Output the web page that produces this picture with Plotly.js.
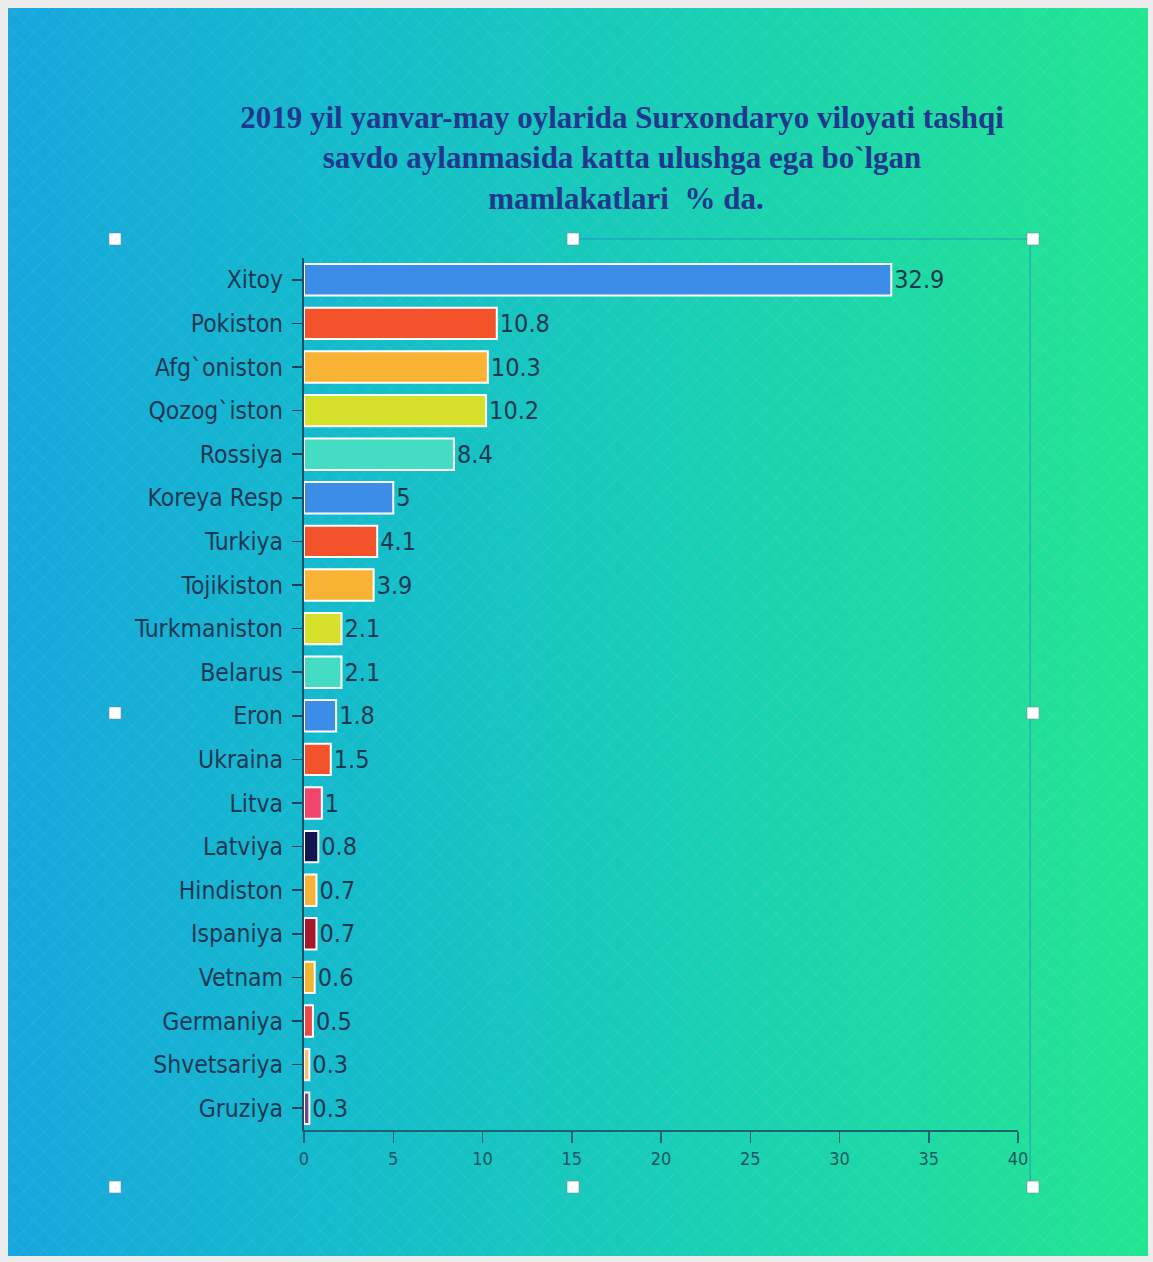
<!DOCTYPE html>
<html>
<head>
<meta charset="utf-8">
<script src="https://cdn.plot.ly/plotly-3.0.1.min.js"></script>
<style>
  html, body { margin: 0; padding: 0; background: #ececec; }
  #wrap { position: relative; width: 1153px; height: 1262px; overflow: hidden; }
  #bg {
    position: absolute; left: 8px; top: 8px; right: 5px; bottom: 6px;
    background:
      repeating-linear-gradient(45deg, rgba(255,255,255,0.03) 0 2px, rgba(255,255,255,0) 2px 14px),
      repeating-linear-gradient(-45deg, rgba(255,255,255,0.03) 0 2px, rgba(255,255,255,0) 2px 14px),
      linear-gradient(90deg, #17a6dd 0%, #14bccb 30%, #19cfb4 60%, #22e591 100%);
  }
  #chart { position: absolute; left: 0; top: 0; width: 1153px; height: 1262px; }
</style>
</head>
<body>
<div id="wrap">
  <div id="bg"></div>
  <div id="chart"></div>
</div>
<script>
const countries = ["Xitoy","Pokiston","Afg`oniston","Qozog`iston","Rossiya","Koreya Resp","Turkiya","Tojikiston","Turkmaniston","Belarus","Eron","Ukraina","Litva","Latviya","Hindiston","Ispaniya","Vetnam","Germaniya","Shvetsariya","Gruziya"];
const shares = [32.9, 10.8, 10.3, 10.2, 8.4, 5, 4.1, 3.9, 2.1, 2.1, 1.8, 1.5, 1, 0.8, 0.7, 0.7, 0.6, 0.5, 0.3, 0.3];
const barColors = ["#3b8de8","#f4522a","#f8b334","#d6e02a","#45dcc4","#3b8de8","#f4522a","#f8b334","#d6e02a","#45dcc4","#3b8de8","#f4522a","#f2456e","#121552","#f8b23a","#a8182c","#f2b531","#e84848","#f7c16a","#6e4a8e"];
const xTicks = [0, 5, 10, 15, 20, 25, 30, 35, 40];
const titleLines = ["2019 yil yanvar-may oylarida Surxondaryo viloyati tashqi","savdo aylanmasida katta ulushga ega bo`lgan","&nbsp;mamlakatlari&nbsp; % da."];

const labelFont = "Liberation Sans Narrow, DejaVu Sans Condensed, Roboto, sans-serif";

const trace = {
  type: "bar",
  orientation: "h",
  y: countries,
  x: shares,
  marker: { color: barColors, line: { color: "#ffffff", width: 2 } },
  text: shares.map(String),
  textposition: "outside",
  textfont: { family: labelFont, size: 25, color: "#1c3850" },
  cliponaxis: false,
  hoverinfo: "x+y",
  width: 0.72
};

// selection frame and handles (decoration from the slide screenshot)
const hx = [-0.2647, 0.3768, 1.021];
const hy = [1.0218, 0.4782, -0.0654];
const frameColor = "rgba(40,110,200,0.6)";
const shapes = [
  { type: "line", xref: "paper", yref: "paper", x0: hx[1], x1: hx[2], y0: hy[0], y1: hy[0], line: { color: frameColor, width: 1 } },
  { type: "line", xref: "paper", yref: "paper", x0: hx[2] - 0.004, x1: hx[2] - 0.004, y0: hy[0], y1: hy[2], line: { color: frameColor, width: 1 } }
];
hx.forEach((x, i) => hy.forEach((y, j) => {
  if (i === 1 && j === 1) return;
  shapes.push({
    type: "rect", xref: "paper", yref: "paper",
    xsizemode: "pixel", ysizemode: "pixel", xanchor: x, yanchor: y,
    x0: -6, x1: 6, y0: -6, y1: 6,
    fillcolor: "#ffffff", line: { color: "rgba(120,140,160,0.6)", width: 1 }
  });
}));

const layout = {
  width: 1153, height: 1262,
  paper_bgcolor: "rgba(0,0,0,0)",
  plot_bgcolor: "rgba(0,0,0,0)",
  margin: { l: 304, r: 135, t: 258, b: 132 },
  showlegend: false,
  title: {
    text: titleLines.join("<br>"),
    font: { family: "Liberation Serif, DejaVu Serif, serif", size: 31, color: "#1f378c", weight: "bold" },
    x: 0.5395, xref: "container", xanchor: "center",
    y: 1 - 128 / 1262, yref: "container", yanchor: "top"
  },
  xaxis: {
    range: [0, 40],
    tickvals: xTicks,
    ticktext: xTicks.map(String),
    showgrid: false, zeroline: false,
    showline: true, linecolor: "#1c6474", linewidth: 2,
    ticks: "outside", ticklen: 11, tickwidth: 1.5, tickcolor: "#1c6474",
    tickfont: { family: labelFont, size: 18, color: "#1b5666" }
  },
  yaxis: {
    autorange: "reversed",
    type: "category",
    showgrid: false, zeroline: false,
    showline: true, linecolor: "#1c4f6a", linewidth: 2,
    ticks: "outside", ticklen: 10, tickwidth: 1.5, tickcolor: "#1c3f5a",
    ticklabelstandoff: 4,
    tickfont: { family: labelFont, size: 24.5, color: "#1c3852" }
  },
  bargap: 0.28,
  shapes: shapes
};

Plotly.newPlot("chart", [trace], layout, { displayModeBar: false, staticPlot: true });
</script>
</body>
</html>
